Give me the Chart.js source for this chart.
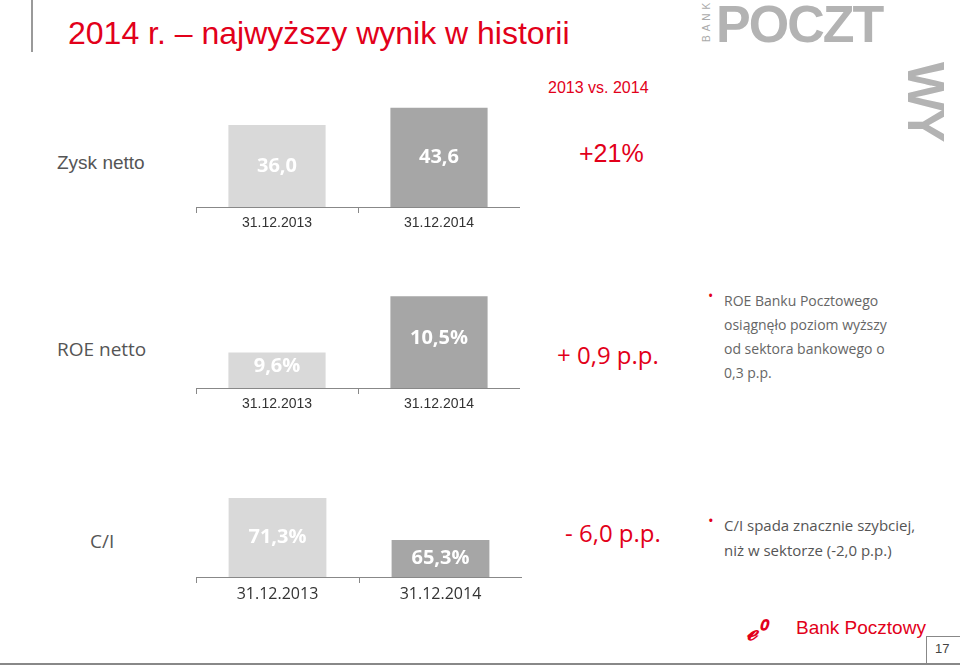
<!DOCTYPE html>
<html><head><meta charset="utf-8">
<script src="https://cdn.jsdelivr.net/npm/chart.js@4"></script>
<style>
body{margin:0;width:960px;height:665px;position:relative;background:#fff;overflow:hidden;font-family:"Liberation Sans",Arial,sans-serif}
.t{position:absolute;white-space:nowrap}
canvas{position:absolute}
.c{font-family:"Open Sans","Liberation Sans",sans-serif}
</style></head><body>
<div class="t" style="left:31px;top:0;width:2px;height:52px;background:#9a9a9a"></div>
<div class="t" style="left:68px;top:15px;font-size:32px;color:#e2001a">2014 r. – najwyższy wynik w historii</div>
<div class="t" style="left:701px;top:42px;font-size:10px;color:#aaa;letter-spacing:4px;transform:rotate(-90deg);transform-origin:left top">BANK</div>
<div class="t" style="left:716px;top:-6px;font-size:52px;font-weight:bold;color:#b3b3b3;letter-spacing:-2px">POCZT</div>
<div class="t" style="left:956px;top:62px;font-size:52px;font-weight:bold;color:#b3b3b3;transform:rotate(90deg);transform-origin:left top;letter-spacing:-3px">WY</div>
<div class="t" style="left:548px;top:79px;font-size:16px;color:#e2001a">2013 vs. 2014</div>
<div class="t" style="left:57px;top:152px;font-size:19px;color:#555">Zysk netto</div>
<div class="t" style="left:579px;top:139px;font-size:25px;color:#e2001a">+21%</div>
<div class="t c" style="left:57px;top:336px;font-size:19px;color:#555">ROE netto</div>
<div class="t c" style="left:557px;top:338px;font-size:24px;color:#e2001a">+ 0,9 p.p.</div>
<div class="t c" style="left:90px;top:528px;font-size:19px;color:#555">C/I</div>
<div class="t c" style="left:565px;top:516px;font-size:24px;color:#e2001a">- 6,0 p.p.</div>
<div class="t c" style="left:708px;top:289px;font-size:14px;color:#666;line-height:24px">
<span style="color:#e2001a;position:absolute;left:0;top:-5px">•</span>
<div style="margin-left:16px">ROE Banku Pocztowego<br>osiągnęło poziom wyższy<br>od sektora bankowego o<br>0,3 p.p.</div></div>
<div class="t c" style="left:708px;top:513px;font-size:15px;color:#555;line-height:25px">
<span style="color:#e2001a;position:absolute;left:0;top:-5px">•</span>
<div style="margin-left:16px">C/I spada znacznie szybciej,<br>niż w sektorze (-2,0 p.p.)</div></div>
<div class="t" style="left:746px;top:614px;font-size:24px;color:#e2001a;font-style:italic;font-weight:bold">ℯ⁰</div>
<div class="t" style="left:796px;top:617px;font-size:19px;color:#e2001a">Bank Pocztowy</div>
<div class="t" style="left:926px;top:636px;width:34px;height:30px;border-left:1px solid #888;border-top:1px solid #888"></div>
<div class="t" style="left:935px;top:641px;font-size:13px;color:#444">17</div>
<div class="t" style="left:0;top:663px;width:960px;height:2px;background:#888"></div>

<canvas id="c1" style="left:196px;top:100px"></canvas>
<canvas id="c2" style="left:196px;top:290px"></canvas>
<canvas id="c3" style="left:196px;top:490px"></canvas>
<script>
const categories=["31.12.2013","31.12.2014"];
const zyskNetto=[36.0,43.6];
const roeNetto=[9.6,10.5];
const ciRatio=[71.3,65.3];
const zyskLabels=["36,0","43,6"];
const roeLabels=["9,6%","10,5%"];
const ciLabels=["71,3%","65,3%"];
const barColors=["#d9d9d9","#a6a6a6"];

const labelPlugin={id:"lbl",afterDraw(ch){
  const ds=ch.data.datasets[0];const ctx=ch.ctx;const m=ch.getDatasetMeta(0);const bot=ch.chartArea.bottom;
  ctx.save();ctx.fillStyle="#ffffff";ctx.font="bold 20px 'Open Sans'";ctx.textAlign="center";ctx.textBaseline="middle";
  m.data.forEach((b,i)=>{ctx.fillText(ds.lbls[i],b.x,(b.y+bot)/2+ds.dy);});ctx.restore();}};

function mk(id,w,h,data,labels,min,max,tickFont,dy){
  const cv=document.getElementById(id);cv.width=w;cv.height=h;cv.style.width=w+"px";cv.style.height=h+"px";
  new Chart(cv,{type:"bar",plugins:[labelPlugin],
   data:{labels:categories,datasets:[{data:data,lbls:labels,dy:dy,backgroundColor:barColors,barPercentage:0.6,categoryPercentage:1}]},
   options:{responsive:false,animation:false,devicePixelRatio:1,layout:{padding:0},
    plugins:{legend:{display:false},tooltip:{enabled:false}},
    scales:{y:{display:false,min:min,max:max},
     x:{grid:{display:true,drawOnChartArea:false,offset:true,color:"#888",tickLength:6},border:{color:"#888"},
        ticks:{color:"#333",font:tickFont,padding:2},afterFit(s){s.height=28;}}}}});
}
mk("c1",324,135,zyskNetto,zyskLabels,0,47,{size:14,family:"Liberation Sans"},0);
mk("c2",324,126,roeNetto,roeLabels,9.034,10.6,{size:14,family:"Liberation Sans"},-4);
mk("c3",326,115,ciRatio,ciLabels,60,72.43,{size:16,family:"Open Sans"},0);
</script></body></html>
